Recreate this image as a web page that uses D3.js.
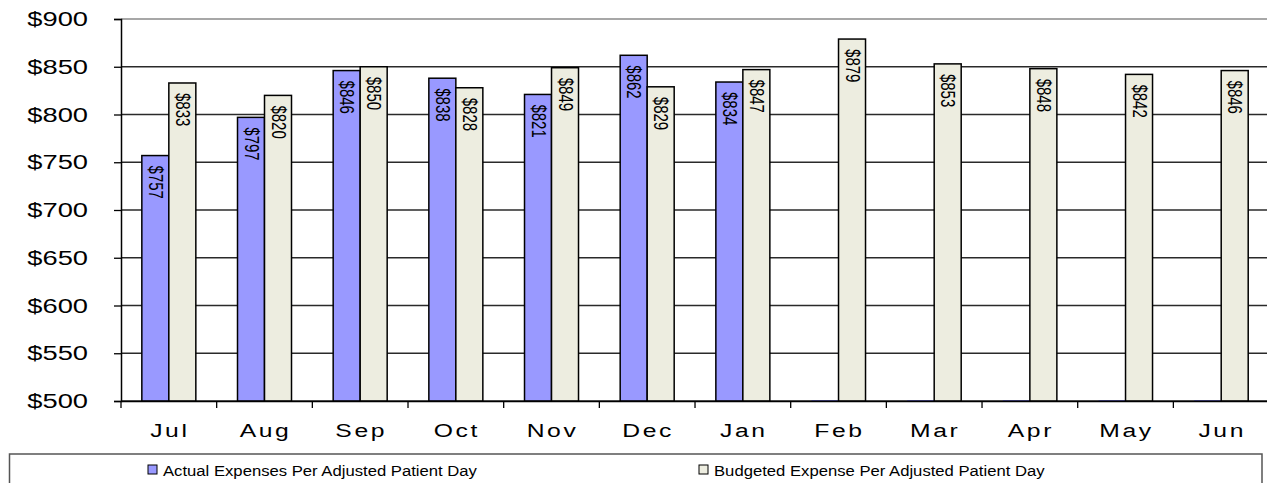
<!DOCTYPE html>
<html>
<head>
<meta charset="utf-8">
<script src="https://cdn.jsdelivr.net/npm/d3@7/dist/d3.min.js"></script>
<style>
  html, body { margin: 0; padding: 0; background: #fff; }
  svg { display: block; }
  text { font-family: "Liberation Sans", Arial, sans-serif; fill: #000; }
</style>
</head>
<body>
<svg id="chart" width="1267" height="483"></svg>
<script>
// Monthly expense per adjusted patient day, fiscal year Jul–Jun
const months = ["Jul", "Aug", "Sep", "Oct", "Nov", "Dec", "Jan", "Feb", "Mar", "Apr", "May", "Jun"];
const actualValues = [757, 797, 846, 838, 821, 862, 834, 0, 0, 0, 0, 0];
const budgetValues = [833, 820, 850, 828, 849, 829, 847, 879, 853, 848, 842, 846];
const seriesNames = ["Actual Expenses Per Adjusted Patient Day", "Budgeted Expense Per Adjusted Patient Day"];
const yTicks = [500, 550, 600, 650, 700, 750, 800, 850, 900];

const colors = { actual: "#9999FF", budget: "#EDEDE0" };

const svg = d3.select("#chart");
const plot = { left: 121, top: 19, bottom: 401, step: 95.67 };
const xStretch = 1.4; // horizontal text stretch used throughout the chart

const x = d3.scaleBand()
  .domain(months)
  .range([plot.left, plot.left + plot.step * months.length])
  .paddingInner(0).paddingOuter(0);

const groupW = 54;
const xs = d3.scaleBand()
  .domain(["actual", "budget"])
  .range([0, groupW]);
const groupOffset = (x.bandwidth() - groupW) / 2;

const y = d3.scaleLinear().domain([500, 900]).range([plot.bottom, plot.top]);

// Gridlines
svg.append("g").selectAll("line")
  .data(yTicks)
  .join("line")
  .attr("x1", plot.left).attr("x2", 1267)
  .attr("y1", d => y(d)).attr("y2", d => y(d))
  .attr("stroke", d => d === 900 ? "#8a8a8a" : "#2a2a2a")
  .attr("stroke-width", 1.3);

// Y axis
const yAxis = d3.axisLeft(y).tickValues(yTicks).tickSize(7).tickFormat("");
const yAxisG = svg.append("g").attr("transform", `translate(${plot.left},0)`).call(yAxis);
yAxisG.select(".domain").attr("stroke", "#000").attr("stroke-width", 1.5);
yAxisG.selectAll(".tick line").attr("stroke", "#000").attr("stroke-width", 1.3);

svg.append("g").selectAll("text")
  .data(yTicks)
  .join("text")
  .attr("transform", d => `translate(88,${y(d) + 7}) scale(${xStretch},1)`)
  .attr("text-anchor", "end")
  .attr("font-size", 19.5)
  .text(d => "$" + d);

// Bars
const rows = months.map((m, i) => ({ month: m, actual: actualValues[i], budget: budgetValues[i] }));
const barG = svg.append("g");

rows.forEach(r => {
  const gx = x(r.month) + groupOffset;
  ["actual", "budget"].forEach(key => {
    const v = r[key];
    const bx = gx + xs(key);
    const bw = xs.bandwidth();
    if (v > 500) {
      barG.append("rect")
        .attr("x", bx).attr("y", y(v))
        .attr("width", bw).attr("height", y(500) - y(v))
        .attr("fill", colors[key])
        .attr("stroke", "#000").attr("stroke-width", 1.5);
      barG.append("text")
        .attr("transform", `translate(${bx + bw / 2 + 1},${y(v) + 10}) scale(${xStretch},1) rotate(90)`)
        .attr("text-anchor", "start")
        .attr("dominant-baseline", "central")
        .attr("font-size", 15)
        .text("$" + v);
    } else {
      // value below the axis minimum: sits on the baseline
      barG.append("line")
        .attr("x1", bx).attr("x2", bx + bw)
        .attr("y1", y(500)).attr("y2", y(500))
        .attr("stroke", "#3a3a8a").attr("stroke-width", 1.5);
    }
  });
});

// X axis
const xAxis = d3.axisBottom(x).tickSize(0).tickFormat("");
const xAxisG = svg.append("g").attr("transform", `translate(0,${plot.bottom})`).call(xAxis);
xAxisG.select(".domain").attr("stroke", "#000").attr("stroke-width", 1.5);
svg.append("g").selectAll("line")
  .data(months.map((m) => x(m)))
  .join("line")
  .attr("x1", d => d).attr("x2", d => d)
  .attr("y1", plot.bottom).attr("y2", plot.bottom + 7)
  .attr("stroke", "#000").attr("stroke-width", 1.3);

svg.append("g").selectAll("text")
  .data(months)
  .join("text")
  .attr("transform", d => `translate(${x(d) + x.bandwidth() / 2 + 1},437) scale(1.3,1)`)
  .attr("text-anchor", "middle")
  .attr("font-size", 19)
  .attr("letter-spacing", 2)
  .text(d => d);

// Legend
svg.append("rect")
  .attr("x", 9.5).attr("y", 454)
  .attr("width", 1252.5).attr("height", 40)
  .attr("fill", "none").attr("stroke", "#555").attr("stroke-width", 1.5);

const legendItems = [
  { name: seriesNames[0], color: colors.actual, sx: 148 },
  { name: seriesNames[1], color: colors.budget, sx: 699 }
];
const lg = svg.append("g").selectAll("g").data(legendItems).join("g");
lg.append("rect")
  .attr("x", d => d.sx).attr("y", 465)
  .attr("width", 9).attr("height", 9)
  .attr("fill", d => d.color).attr("stroke", "#000").attr("stroke-width", 1);
lg.append("text")
  .attr("transform", d => `translate(${d.sx + 15},475.5) scale(1.15,1)`)
  .attr("font-size", 14.5)
  .text(d => d.name);
</script>
</body>
</html>
